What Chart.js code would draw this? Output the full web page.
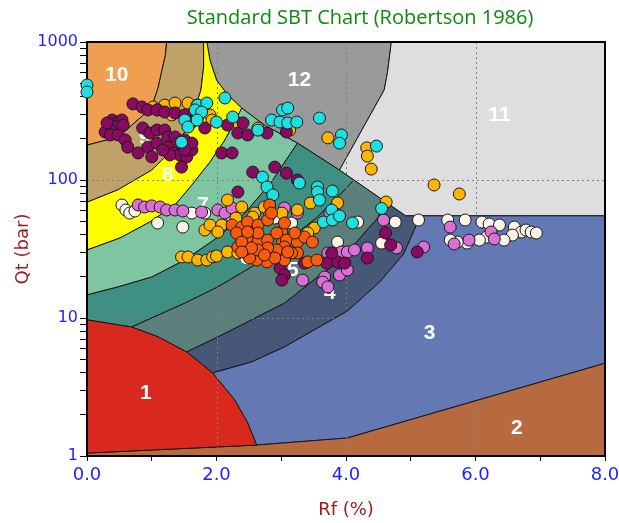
<!DOCTYPE html>
<html>
<head>
<meta charset="utf-8">
<title>Standard SBT Chart</title>
<script src="https://cdn.jsdelivr.net/npm/chart.js@4.4.1/dist/chart.umd.min.js"></script>
<style>
  html, body { margin: 0; padding: 0; background: #ffffff; }
  #wrap { width: 619px; height: 523px; }
</style>
</head>
<body>
<div id="wrap"><canvas id="sbt" width="619" height="523"></canvas></div>
<script>
// ---- axis ticks ----
const xTickValues = [0, 1, 2, 3, 4, 5, 6, 7, 8];
const xGridValues = [2, 4, 6];
const yDecades = [1, 10, 100, 1000];
const yGridValues = [10, 100];

// ---- zone boundaries, points as [Rf (%), Qt (bar)] ----
const b1 = [[0, 9.7], [0.69, 8.6], [1.1, 7.3], [1.54, 5.67], [1.94, 4.0], [2.28, 2.55], [2.48, 1.74], [2.62, 1.2]];
const b2 = [[0, 1.05], [2.62, 1.2], [4.02, 1.35], [8, 4.7]];
const b4 = [[1.94, 4.0], [2.54, 4.8], [3.05, 6.17], [3.56, 8.46], [4.02, 11.2], [4.52, 18.2], [4.89, 29.1], [5.15, 55]];
const b5 = [[1.54, 5.67], [2.02, 7.28], [2.54, 9.68], [3.05, 12.8], [3.56, 19.8], [3.95, 26.8], [4.27, 40.6], [4.49, 53], [4.60, 70]];
const b6 = [[0.69, 8.6], [1.51, 12.8], [2.02, 16.8], [2.54, 23.4], [3.05, 34.9], [3.56, 53.9], [3.98, 84.7], [4.12, 100]];
const b7 = [[0, 14.7], [0.48, 16.8], [1.0, 19.8], [1.51, 26.3], [2.05, 39.3], [2.44, 57.6], [2.85, 96.8], [3.25, 185]];
const b8 = [[0, 31.1], [0.51, 38], [0.97, 49.6], [1.36, 65.9], [1.62, 92], [1.90, 135], [2.13, 195], [2.28, 263], [2.39, 332]];
const b9 = [[0, 69], [0.48, 85], [1.0, 118], [1.36, 173], [1.6, 260], [1.76, 450], [1.80, 650], [1.80, 1000]];
const b10 = [[0, 179], [0.4, 200], [0.6, 228], [0.85, 290], [1.0, 338], [1.1, 470], [1.15, 600], [1.21, 800], [1.23, 1000]];
const b12 = [[1.85, 1000], [1.90, 736], [2.0, 530], [2.17, 415], [2.39, 332], [2.74, 250], [3.25, 185], [3.90, 118]];
const b12to11 = [[3.90, 118], [4.59, 449], [4.64, 600], [4.70, 1000]];
const stiffCorner = [4.92, 55];

// ---- zone names, colours and label anchors ----
const zoneLabels = ['1', '2', '3', '4', '5', '6', '7', '8', '9', '10', '11', '12'];
const zoneColors = ['#d9291f', '#b76a40', '#6479b4', '#465778', '#5b7f7b', '#3f8f82',
                    '#7ec6a2', '#ffff00', '#c0a168', '#f09e50', '#dedede', '#9a9a9a'];
const zoneLabelRf = [0.91, 6.64, 5.29, 3.75, 3.18, 2.45, 1.79, 1.25, 0.89, 0.46, 6.37, 3.28];
const zoneLabelQt = [2.86, 1.6, 7.79, 15.2, 22.3, 27.2, 65.9, 109, 202, 577, 296, 531];

// ---- CPT soundings, [Rf (%), Qt (bar)] ----
const cpt01 = [[0.71, 356], [0.85, 338], [0.94, 322], [1.08, 322], [1.2, 311], [1.36, 306], [1.51, 296], [1.62, 263], [1.71, 286], [1.82, 238],
  [0.39, 272], [0.48, 263], [0.54, 272], [0.43, 242], [0.36, 230], [0.28, 223], [0.36, 212], [0.48, 212], [0.56, 250], [0.31, 259], [0.59, 195],
  [0.63, 173], [0.79, 157], [0.86, 238], [0.97, 219], [1.08, 230], [1.2, 230], [1.25, 205], [0.94, 173], [1.0, 147],
  [1.36, 205], [1.4, 185], [1.51, 195], [1.25, 173], [1.33, 157], [1.43, 152], [1.54, 147], [1.62, 165], [1.62, 185], [1.51, 165], [1.46, 124], [1.28, 152],
  [1.08, 185], [1.17, 165], [2.08, 157], [2.24, 157], [2.17, 250], [2.33, 219], [2.48, 212], [2.41, 259], [2.78, 219],
  [2.9, 124], [2.56, 114], [3.08, 112], [3.25, 100], [2.33, 81.8], [3.08, 223],
  [3.7, 25], [3.87, 25.5], [3.98, 25], [4.33, 27.2], [3.78, 29.6], [2.98, 23], [3.05, 20.5], [3.01, 18.8], [3.36, 25], [4.61, 41.3], [4.69, 33.8], [5.1, 30.1]];
const cpt02 = [[1.02, 338], [1.2, 349], [1.36, 361], [1.56, 361], [1.7, 349], [1.31, 296], [1.09, 322], [1.9, 296], [1.93, 272], [2.33, 259], [2.64, 238], [3.13, 230],
  [3.72, 202], [4.32, 171], [4.33, 149], [4.39, 120], [5.36, 92], [5.75, 79.2], [4.62, 69.3], [3.87, 68.1], [3.45, 68.1], [3.25, 60.6], [3.51, 44.9], [3.41, 41.3],
  [1.46, 27.7], [1.56, 27.7], [1.71, 26.3], [1.85, 26.3], [1.94, 27.7], [2.0, 28.1], [1.82, 43.4], [1.9, 47.2], [2.08, 47.2], [2.02, 42], [2.17, 71.6], [2.39, 63.7],
  [2.17, 30.1], [2.33, 29.6], [2.59, 57.6], [2.74, 63.7], [3.01, 57.6], [2.56, 53.9], [2.3, 53], [2.82, 55.8]];
const cpt03 = [[0, 488], [0, 434], [1.71, 349], [1.85, 361], [2.13, 393], [1.67, 322], [1.77, 311], [1.51, 272], [1.56, 242], [1.7, 272], [2.0, 263], [2.25, 286], [2.64, 230], [1.46, 188],
  [3.02, 322], [3.1, 332], [2.85, 272], [2.98, 263], [3.1, 259], [3.24, 263], [3.59, 281], [3.93, 212], [3.9, 185], [4.47, 176],
  [2.71, 105], [2.78, 89], [2.87, 77.9], [3.28, 95.1], [3.56, 89], [3.56, 81.8], [3.59, 71.6], [3.79, 83.2], [3.78, 60.6], [3.65, 49.6], [3.79, 51.3], [3.9, 54.9], [4.1, 48.8], [4.55, 62.2]];
const cpt04 = [[0.79, 65.9], [0.89, 63.7], [1.0, 64.9], [1.13, 63.7], [1.23, 60.6], [1.36, 60.6], [1.48, 59.6], [1.77, 58.6], [2.02, 60.6], [2.13, 57.6], [2.24, 62.7],
  [3.05, 62.7], [3.25, 57.6], [3.75, 57.6],
  [3.72, 29.6], [3.82, 27.7], [3.93, 30.1], [4.02, 30.1], [4.13, 31.1], [4.33, 32.2], [3.9, 20.5], [4.02, 22.3], [3.67, 19.8], [3.64, 18.2], [3.72, 16.8], [3.33, 18.8],
  [4.58, 51.3], [4.78, 32.2], [5.2, 32.7], [5.61, 45.6], [5.67, 34.4], [5.9, 36.7], [6.24, 42], [6.29, 37.4]];
const cpt05 = [[0.54, 65.9], [0.6, 60.6], [0.66, 57.6], [0.74, 59.6], [1.09, 48.8], [1.48, 45.6], [1.62, 57.6], [1.82, 57.6], [2.24, 53.9], [2.9, 53], [3.16, 48.8],
  [3.87, 35.5], [4.18, 49.6], [4.55, 34.9], [4.76, 49.6], [5.12, 51.3], [5.57, 51.3], [5.84, 51.3], [6.1, 49.6], [6.21, 48], [6.37, 47.2], [6.6, 45.6],
  [6.71, 42], [6.78, 43.4], [6.86, 42], [6.94, 41.3], [6.57, 39.9], [6.44, 36.7], [6.17, 38.6], [6.06, 36.7], [5.87, 34.9], [5.72, 35.5], [5.61, 36.7]];
const cpt06 = [[2.24, 47.2], [2.39, 45.6], [2.48, 49.6], [2.64, 47.2], [2.79, 51.3], [2.82, 65.9], [3.01, 42], [3.02, 35.5], [3.08, 36.7], [3.25, 35.5], [3.36, 38.6],
  [3.48, 35.5], [3.25, 29.6], [3.16, 29.6], [3.05, 32.7], [2.93, 31.1], [2.78, 25.5], [2.62, 26.3], [2.51, 27.2], [2.44, 31.1], [2.33, 32.7], [2.31, 41.3],
  [2.48, 36.7], [2.64, 35.5], [2.79, 36.7], [2.79, 32.2], [2.64, 31.1], [2.93, 41.3], [3.05, 48.8], [3.21, 41.3], [2.85, 57.6], [2.64, 41.3], [2.48, 42],
  [2.39, 35.5], [3.41, 25.5], [3.55, 26.3], [3.05, 26.3], [2.9, 27.2], [3.1, 30.1], [2.74, 28.6], [2.54, 32.2], [2.39, 30.1]];

const soundings = [cpt01, cpt02, cpt03, cpt04, cpt05, cpt06];
const soundingNames = ['CPT-01', 'CPT-02', 'CPT-03', 'CPT-04', 'CPT-05', 'CPT-06'];
const soundingColors = ['#8a0a62', '#ffb400', '#1fe0e0', '#da70d6', '#fbf3e6', '#fa5a0a'];
const soundingLayer = [4, 5, 3, 6, 7, 2]; // lower draws on top

// ---- closed zone outlines built from the shared boundaries ----
const rev = a => a.slice().reverse();
const zoneShapes = [
  [...b1, ...rev(b2.slice(0, 2))],
  [[0, 1], ...b2, [8, 1]],
  [...b1.slice(4), ...b2.slice(1), [8, 55], ...rev(b4)],
  [...b1.slice(3, 5), ...b4, stiffCorner, ...rev(b5)],
  [...b1.slice(1, 4), ...b5, ...rev(b6)],
  [...b1.slice(0, 2), ...b6, ...rev(b12.slice(6)), ...rev(b7)],
  [...b7, ...rev(b12.slice(4, 7)), ...rev(b8)],
  [...b8, ...rev(b12.slice(0, 5)), ...rev(b9)],
  [...b9, ...rev(b10)],
  [[0, 1000], ...b10],
  [[8, 1000], [8, 55], stiffCorner, ...b12to11],
  [...b12, ...b12to11]
];

const toXY = pts => pts.map(p => ({ x: p[0], y: p[1] }));

const zoneDatasets = zoneShapes.map((shape, i) => ({
  type: 'line',
  label: 'Zone ' + zoneLabels[i],
  data: toXY(shape),
  showLine: true,
  fill: 'shape',
  backgroundColor: zoneColors[i],
  borderColor: '#151515',
  borderWidth: 1,
  pointRadius: 0,
  tension: 0,
  order: 10
}));

const pointDatasets = soundings.map((s, i) => ({
  type: 'scatter',
  label: soundingNames[i],
  data: toXY(s),
  backgroundColor: soundingColors[i],
  borderColor: '#1a1a1a',
  borderWidth: 1,
  pointRadius: 6,
  pointHoverRadius: 6,
  clip: false,
  order: soundingLayer[i]
}));

// grid, zone numbers and frame sit between the zones and the soundings
const overlay = {
  id: 'overlay',
  afterDatasetDraw(chart, args) {
    if (args.index !== 0) return;
    const { ctx, chartArea: a, scales: { x, y } } = chart;
    ctx.save();
    ctx.strokeStyle = '#808080';
    ctx.lineWidth = 1;
    ctx.setLineDash([2, 3]);
    ctx.beginPath();
    xGridValues.forEach(v => {
      const px = Math.round(x.getPixelForValue(v)) + 0.5;
      ctx.moveTo(px, a.top); ctx.lineTo(px, a.bottom);
    });
    yGridValues.forEach(v => {
      const py = Math.round(y.getPixelForValue(v)) + 0.5;
      ctx.moveTo(a.left, py); ctx.lineTo(a.right, py);
    });
    ctx.stroke();
    ctx.setLineDash([]);

    ctx.fillStyle = '#ffffff';
    ctx.font = 'bold 21px "Liberation Sans", Arial, sans-serif';
    ctx.textAlign = 'center';
    ctx.textBaseline = 'middle';
    zoneLabels.forEach((t, i) => {
      ctx.fillText(t, x.getPixelForValue(zoneLabelRf[i]), y.getPixelForValue(zoneLabelQt[i]));
    });

    ctx.strokeStyle = '#000000';
    ctx.lineWidth = 2;
    ctx.strokeRect(a.left, a.top, a.right - a.left, a.bottom - a.top);
    ctx.restore();
  },
  afterDraw(chart) {
    const { ctx, chartArea: a } = chart;
    ctx.save();
    ctx.fillStyle = '#0d8a0d';
    ctx.font = '20px "Open Sans", sans-serif';
    ctx.textAlign = 'center';
    ctx.textBaseline = 'middle';
    ctx.fillText('Standard SBT Chart (Robertson 1986)', 360, 18);

    ctx.fillStyle = '#9a1c1c';
    ctx.font = '18px "DejaVu Sans", sans-serif';
    ctx.fillText('Rf (%)', (a.left + a.right) / 2, 510);

    ctx.translate(23, (a.top + a.bottom) / 2);
    ctx.rotate(-Math.PI / 2);
    ctx.fillText('Qt (bar)', 0, 0);
    ctx.restore();
  }
};

const yTickValues = [];
yDecades.slice(0, 3).forEach(d => { for (let m = 1; m < 10; m++) yTickValues.push(m * d); });
yTickValues.push(1000);

new Chart(document.getElementById('sbt'), {
  type: 'scatter',
  data: { datasets: [...zoneDatasets, ...pointDatasets] },
  options: {
    responsive: false,
    animation: false,
    devicePixelRatio: 1,
    layout: { padding: { top: 42, right: 14, left: 0, bottom: 0 } },
    plugins: { legend: { display: false }, tooltip: { enabled: false }, title: { display: false } },
    scales: {
      x: {
        type: 'linear', position: 'bottom', min: 0, max: 8,
        afterBuildTicks: s => { s.ticks = xTickValues.map(v => ({ value: v })); },
        afterFit: s => { s.height = 67; s.paddingLeft = 0; s.paddingRight = 0; },
        ticks: {
          autoSkip: false, maxRotation: 0, padding: 4, color: '#1f1fff',
          font: { family: 'DejaVu Sans', size: 18 },
          callback: v => (v % 2 === 0 ? v.toFixed(1) : '')
        },
        grid: { drawOnChartArea: false, drawTicks: true, tickLength: 5, color: '#000000', lineWidth: 1 },
        border: { display: false }
      },
      y: {
        type: 'logarithmic', position: 'left', min: 1, max: 1000,
        afterBuildTicks: s => { s.ticks = yTickValues.map(v => ({ value: v })); },
        afterFit: s => { s.width = 87; s.paddingTop = 0; s.paddingBottom = 0; },
        ticks: {
          autoSkip: false, padding: 2, color: '#1f1fff',
          font: { family: 'DejaVu Sans', size: 16 },
          callback: v => (yDecades.includes(v) ? String(v) : '')
        },
        grid: { drawOnChartArea: false, drawTicks: true, tickLength: 7, color: '#000000', lineWidth: 1 },
        border: { display: false }
      }
    }
  },
  plugins: [overlay]
});
</script>
</body>
</html>
